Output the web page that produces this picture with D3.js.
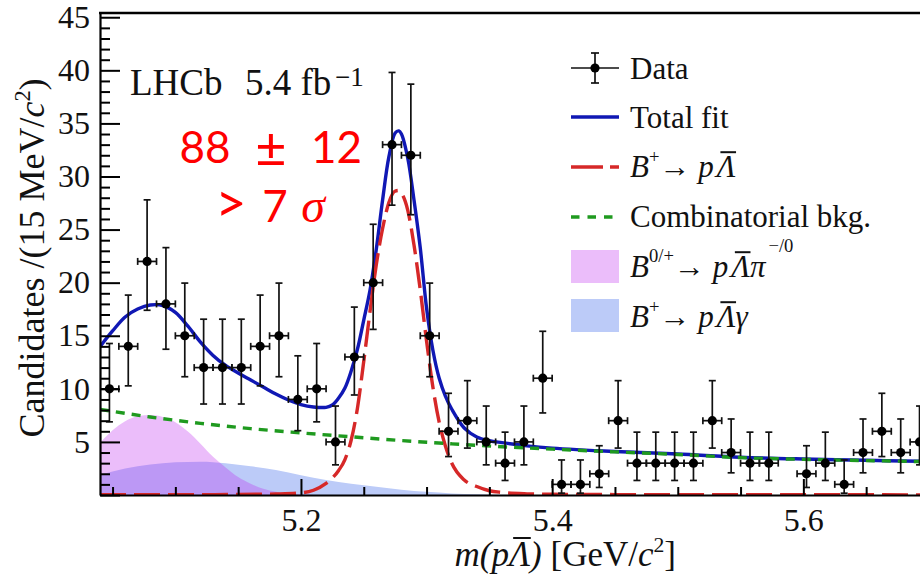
<!DOCTYPE html>
<html><head><meta charset="utf-8">
<script src="https://cdn.jsdelivr.net/npm/d3@7/dist/d3.min.js"></script>
<style>
html,body{margin:0;padding:0;background:#fff;}
svg{display:block;font-family:"Liberation Serif","Times New Roman",serif;}
</style></head><body>
<svg id="c" width="920" height="582"></svg>
<script>
// ---------- data ----------
const dataMass = [5.0475,5.0625,5.0775,5.0925,5.1075,5.1225,5.1375,5.1525,5.1675,5.1825,5.1975,5.2125,5.2275,5.2425,5.2575,5.2725,5.2875,5.3025,5.3175,5.3325,5.3475,5.3625,5.3775,5.3925,5.4075,5.4225,5.4375,5.4525,5.4675,5.4825,5.4975,5.5125,5.5275,5.5425,5.5575,5.5725,5.5875,5.6025,5.6175,5.6325,5.6475,5.6625,5.6775,5.6925];
const dataCount = [10,14,22,18,15,12,12,12,14,15,9,10,5,13,20,33,32,15,6,7,5,3,5,11,1,1,2,7,3,3,3,3,7,4,3,3,0,2,3,1,4,6,4,5];
const dataLow  = [6.89,10.28,17.4,13.73,11.14,8.57,8.57,8.57,10.28,11.14,6.06,6.89,2.84,9.42,15.6,27.3,26.4,11.14,3.62,4.42,2.84,1.37,2.84,7.73,0.17,0.17,0.71,4.42,1.37,1.37,1.37,1.37,4.42,2.09,1.37,1.37,null,0.71,1.37,0.17,2.09,3.62,2.09,2.84];
const dataHigh = [14.27,18.83,27.8,23.30,19.96,16.56,16.56,16.56,18.83,19.96,13.11,14.27,8.38,17.70,25.5,39.8,38.7,19.96,9.58,10.77,8.38,5.92,8.38,15.42,3.30,3.30,4.64,10.77,5.92,5.92,5.92,5.92,10.77,7.16,5.92,5.92,null,4.64,5.92,3.30,7.16,9.58,7.16,8.38];
const binHalf = 0.0075;

const totalMass = [5.04,5.05,5.06,5.07,5.08,5.09,5.10,5.11,5.12,5.13,5.14,5.15,5.16,5.17,5.18,5.19,5.20,5.21,5.22,5.225,5.23,5.235,5.24,5.245,5.25,5.255,5.26,5.265,5.27,5.275,5.278,5.28,5.285,5.29,5.295,5.30,5.305,5.31,5.315,5.32,5.33,5.34,5.35,5.36,5.38,5.40,5.45,5.50,5.55,5.60,5.65,5.70,5.74];
const totalFit  = [13.97,15.45,16.77,17.52,17.9,17.85,17.2,15.9,14.4,13.15,12.2,11.49,10.83,10.17,9.51,8.95,8.52,8.29,8.26,8.48,9.14,10.08,11.68,13.75,16.48,19.31,23.17,27.79,31.84,34.1,34.29,34.0,31.74,27.79,23.26,17.61,13.66,11.02,9.32,8.1,6.31,5.46,5.11,4.93,4.63,4.42,4.1,3.86,3.56,3.39,3.27,3.16,3.1];

const signalMass = [5.04,5.10,5.15,5.18,5.20,5.21,5.22,5.225,5.23,5.235,5.24,5.245,5.25,5.255,5.26,5.265,5.27,5.275,5.278,5.28,5.285,5.29,5.295,5.30,5.305,5.31,5.315,5.32,5.33,5.34,5.35,5.36,5.38,5.40,5.45,5.50,5.60,5.74];
const signalFit  = [0.02,0.03,0.05,0.1,0.2,0.45,1.1,1.6,2.31,3.34,5.18,8.2,12.6,17.3,21.7,25.1,27.55,28.63,28.68,28.44,26.84,23.55,19.31,14.5,10.2,6.88,4.62,3.01,1.41,0.8,0.4,0.24,0.11,0.07,0.04,0.03,0.02,0.015];

const combMass = [5.04,5.08,5.12,5.16,5.20,5.24,5.28,5.32,5.36,5.40,5.45,5.50,5.55,5.60,5.65,5.70,5.74];
const combFit  = [8.07,7.35,6.75,6.25,5.85,5.48,5.13,4.82,4.55,4.32,4.06,3.82,3.52,3.36,3.24,3.14,3.08];

const piMass = [5.04,5.05,5.06,5.07,5.08,5.09,5.10,5.11,5.12,5.13,5.14,5.15,5.16,5.17,5.18,5.19,5.20,5.21];
const piFit  = [4.9,6.1,6.95,7.42,7.53,7.35,6.85,5.98,4.83,3.6,2.6,1.7,1.07,0.58,0.3,0.13,0.04,0];

const gammaMass = [5.04,5.06,5.08,5.10,5.12,5.14,5.16,5.18,5.20,5.22,5.24,5.26,5.28,5.30,5.32,5.34,5.36,5.38];
const gammaFit  = [1.9,2.5,2.87,3.08,3.14,3.0,2.7,2.35,1.87,1.42,1.05,0.78,0.5,0.3,0.15,0.06,0.02,0];

const xMajor = [5.2,5.4,5.6];
const xMinor = [5.05,5.1,5.15,5.25,5.3,5.35,5.45,5.5,5.55,5.65,5.7];
const yMajor = [0,5,10,15,20,25,30,35,40,45];
const yMinor = [1,2,3,4,6,7,8,9,11,12,13,14,16,17,18,19,21,22,23,24,26,27,28,29,31,32,33,34,36,37,38,39,41,42,43,44];

// ---------- layout ----------
const svg = d3.select('#c');
const L = 100, B = 495, T = 13;
const x = d3.scaleLinear().domain([5.04,5.74]).range([L, L+0.7*1256]);
const y = d3.scaleLinear().domain([0,45.4]).range([B, T]);

const C_BLUE = '#1018b4', C_RED = '#d62828', C_GREEN = '#1f9a1f';
const C_GAMMA = '#bccbf8', C_PI = '#bc26ee', PI_OP = 0.3;

svg.append('clipPath').attr('id','clip').append('rect')
  .attr('x',L).attr('y',T).attr('width',x(5.74)-L).attr('height',B-T);
const plot = svg.append('g').attr('clip-path','url(#clip)');

// fills
const area = d3.area().x(d=>x(d[0])).y0(y(0)).y1(d=>y(d[1])).curve(d3.curveMonotoneX);
plot.append('path').datum(gammaMass.map((m,i)=>[m,gammaFit[i]])).attr('d',area).attr('fill',C_GAMMA);
plot.append('path').datum(piMass.map((m,i)=>[m,piFit[i]])).attr('d',area).attr('fill',C_PI).attr('fill-opacity',PI_OP);

// axes
const fs = 32;
svg.append('g').attr('transform',`translate(${L},0)`)
  .call(d3.axisLeft(y).tickValues(yMajor).tickSize(-20).tickSizeOuter(0).tickPadding(10).tickFormat(d=>d===0?'':d));
svg.append('g').attr('transform',`translate(${L},0)`)
  .call(d3.axisLeft(y).tickValues(yMinor).tickSize(-10).tickSizeOuter(0).tickFormat(''))
  .select('.domain').remove();
svg.append('g').attr('transform',`translate(0,${B})`)
  .call(d3.axisBottom(x).tickValues(xMajor).tickSize(-16).tickSizeOuter(0).tickPadding(13).tickFormat(d3.format('.1f')));
svg.append('g').attr('transform',`translate(0,${B})`)
  .call(d3.axisBottom(x).tickValues(xMinor).tickSize(-8).tickSizeOuter(0).tickFormat(''))
  .select('.domain').remove();
svg.selectAll('.tick line').attr('stroke','#000').attr('stroke-width',2);
svg.selectAll('.domain').attr('stroke','#000').attr('stroke-width',2.2);
svg.selectAll('.tick text').attr('font-size',fs).attr('font-family','"Liberation Serif",serif').attr('fill','#111');
svg.append('line').attr('x1',L-1).attr('x2',920).attr('y1',T).attr('y2',T).attr('stroke','#000').attr('stroke-width',2.4);

// curves
const line = d3.line().x(d=>x(d[0])).y(d=>y(d[1])).curve(d3.curveMonotoneX);
const smooth = d3.line().x(d=>x(d[0])).y(d=>y(d[1])).curve(d3.curveCatmullRom.alpha(0.5));
plot.append('path').datum(totalMass.map((m,i)=>[m,totalFit[i]])).attr('d',smooth)
  .attr('fill','none').attr('stroke',C_BLUE).attr('stroke-width',3.4);
plot.append('path').datum(signalMass.map((m,i)=>[m,signalFit[i]])).attr('d',line)
  .attr('fill','none').attr('stroke',C_RED).attr('stroke-width',3.4).attr('stroke-dasharray','26,8');
plot.append('path').datum(combMass.map((m,i)=>[m,combFit[i]])).attr('d',line)
  .attr('fill','none').attr('stroke',C_GREEN).attr('stroke-width',3.4).attr('stroke-dasharray','9,7');

// data points
const pts = plot.append('g').attr('stroke','#111').attr('stroke-width',1.7);
dataMass.forEach((m,i)=>{
  if (!dataCount[i]) return;
  const cx = x(m), cy = y(dataCount[i]);
  const yl = y(dataLow[i]), yh = y(dataHigh[i]);
  const xl = x(m-binHalf), xr = x(m+binHalf);
  pts.append('line').attr('x1',cx).attr('x2',cx).attr('y1',yl).attr('y2',yh);
  pts.append('line').attr('x1',cx-3.5).attr('x2',cx+3.5).attr('y1',yl).attr('y2',yl);
  pts.append('line').attr('x1',cx-3.5).attr('x2',cx+3.5).attr('y1',yh).attr('y2',yh);
  pts.append('line').attr('x1',xl).attr('x2',xr).attr('y1',cy).attr('y2',cy);
  pts.append('line').attr('x1',xl).attr('x2',xl).attr('y1',cy-3.5).attr('y2',cy+3.5);
  pts.append('line').attr('x1',xr).attr('x2',xr).attr('y1',cy-3.5).attr('y2',cy+3.5);
  pts.append('circle').attr('cx',cx).attr('cy',cy).attr('r',4.6).attr('fill','#000').attr('stroke','none');
});

// rich text helper
function rich(g, px, py, size, segs, opts={}) {
  const t = g.append('text').attr('x',px).attr('y',py).attr('font-size',size)
    .attr('text-anchor',opts.anchor||'start').attr('fill',opts.fill||'#111');
  if (opts.transform) t.attr('transform',opts.transform);
  let shift = 0;
  segs.forEach(s=>{
    const sp = t.append('tspan').text(s.t);
    if (s.it) sp.attr('font-style','italic');
    const target = s.sup ? -(s.up||0.42)*size : 0;
    const dy = target - shift;
    if (dy) sp.attr('dy',dy);
    shift = target;
    if (s.sup) sp.attr('font-size',size*(s.scale||0.62));
    if (s.dx) sp.attr('dx',s.dx);
  });
  let idx = 0;
  const node = t.node();
  segs.forEach(s=>{
    if (s.over) {
      const a = node.getStartPositionOfChar(idx), b = node.getEndPositionOfChar(idx+s.t.length-1);
      g.append('line').attr('x1',a.x+size*0.12).attr('x2',b.x+size*0.02)
        .attr('y1',py-size*0.8).attr('y2',py-size*0.8)
        .attr('stroke',opts.fill||'#111').attr('stroke-width',2)
        .attr('transform',opts.transform||null);
    }
    idx += s.t.length;
  });
  return t;
}

// axis titles
rich(svg, 676, 566, 35, [{t:'m(p',it:1},{t:'Λ',it:1,over:1},{t:')',it:1},{t:' [GeV/'},{t:'c',it:1},{t:'2',sup:1,up:0.4,scale:0.62},{t:']'}], {anchor:'end'});
rich(svg, 0, 0, 36, [{t:'Candidates /(15 MeV/'},{t:'c',it:1},{t:'2',sup:1,up:0.4},{t:')'}], {anchor:'middle', transform:'translate(44,258) rotate(-90)'});

// LHCb label
svg.append('text').attr('x',130).attr('y',95).attr('font-size',37).attr('fill','#111').text('LHCb');
svg.append('text').attr('x',245).attr('y',95).attr('font-size',37).attr('fill','#111').text('5.4 fb');
svg.append('text').attr('x',335).attr('y',86).attr('font-size',27).attr('fill','#111').text('−1');

// red annotation
const ann = svg.append('g').attr('fill','#ff0000').attr('font-family','Lato,"Open Sans",sans-serif').attr('font-size',44).attr('text-anchor','middle');
ann.append('text').attr('x',205).attr('y',163).text('88');
ann.append('text').attr('x',271).attr('y',167).attr('font-size',54).text('±');
ann.append('text').attr('x',336.5).attr('y',163).text('12');
ann.append('text').attr('x',231).attr('y',222).attr('font-size',54).text('>');
ann.append('text').attr('x',275).attr('y',221.5).text('7');
ann.append('text').attr('x',313).attr('y',221.5).attr('font-family','"Liberation Serif",serif').attr('font-style','italic').attr('font-size',48).text('σ');

// legend
const lg = svg.append('g');
const lx0 = 571, lx1 = 619, tx = 630, lfs = 31;
lg.append('line').attr('x1',lx0).attr('x2',lx1).attr('y1',68).attr('y2',68).attr('stroke','#111').attr('stroke-width',1.7);
lg.append('line').attr('x1',595).attr('x2',595).attr('y1',53).attr('y2',83).attr('stroke','#111').attr('stroke-width',1.7);
lg.append('line').attr('x1',591).attr('x2',599).attr('y1',53).attr('y2',53).attr('stroke','#111').attr('stroke-width',1.7);
lg.append('line').attr('x1',591).attr('x2',599).attr('y1',83).attr('y2',83).attr('stroke','#111').attr('stroke-width',1.7);
lg.append('circle').attr('cx',595).attr('cy',68).attr('r',4.6).attr('fill','#000');
rich(lg, tx, 79, lfs, [{t:'Data'}]);
lg.append('line').attr('x1',lx0).attr('x2',lx1).attr('y1',117).attr('y2',117).attr('stroke',C_BLUE).attr('stroke-width',3.4);
rich(lg, tx, 128, lfs, [{t:'Total fit'}]);
lg.append('line').attr('x1',lx0).attr('x2',lx1).attr('y1',167).attr('y2',167).attr('stroke',C_RED).attr('stroke-width',3.4).attr('stroke-dasharray','32,7');
rich(lg, tx, 177, lfs, [{t:'B',it:1},{t:'+',sup:1,up:0.45,scale:0.6},{t:'→ '},{t:'p',it:1},{t:'Λ',it:1,over:1,dx:3}]);
lg.append('line').attr('x1',lx0).attr('x2',lx1).attr('y1',217).attr('y2',217).attr('stroke',C_GREEN).attr('stroke-width',3.4).attr('stroke-dasharray','8.5,8');
rich(lg, tx, 227, lfs, [{t:'Combinatorial bkg.'}]);
lg.append('rect').attr('x',lx0).attr('y',250).attr('width',lx1-lx0).attr('height',33).attr('fill',C_PI).attr('fill-opacity',PI_OP);
rich(lg, tx, 277, lfs, [{t:'B',it:1},{t:'0/+',sup:1,up:0.48,scale:0.6},{t:'→ '},{t:'p',it:1},{t:'Λ',it:1,over:1,dx:3},{t:'π',it:1},{t:'−/0',sup:1,up:0.8,scale:0.6,dx:3}]);
lg.append('rect').attr('x',lx0).attr('y',299).attr('width',lx1-lx0).attr('height',33).attr('fill',C_GAMMA);
rich(lg, tx, 327, lfs, [{t:'B',it:1},{t:'+',sup:1,up:0.45,scale:0.6},{t:'→ '},{t:'p',it:1},{t:'Λ',it:1,over:1,dx:3},{t:'γ',it:1}]);
</script>
</body></html>
